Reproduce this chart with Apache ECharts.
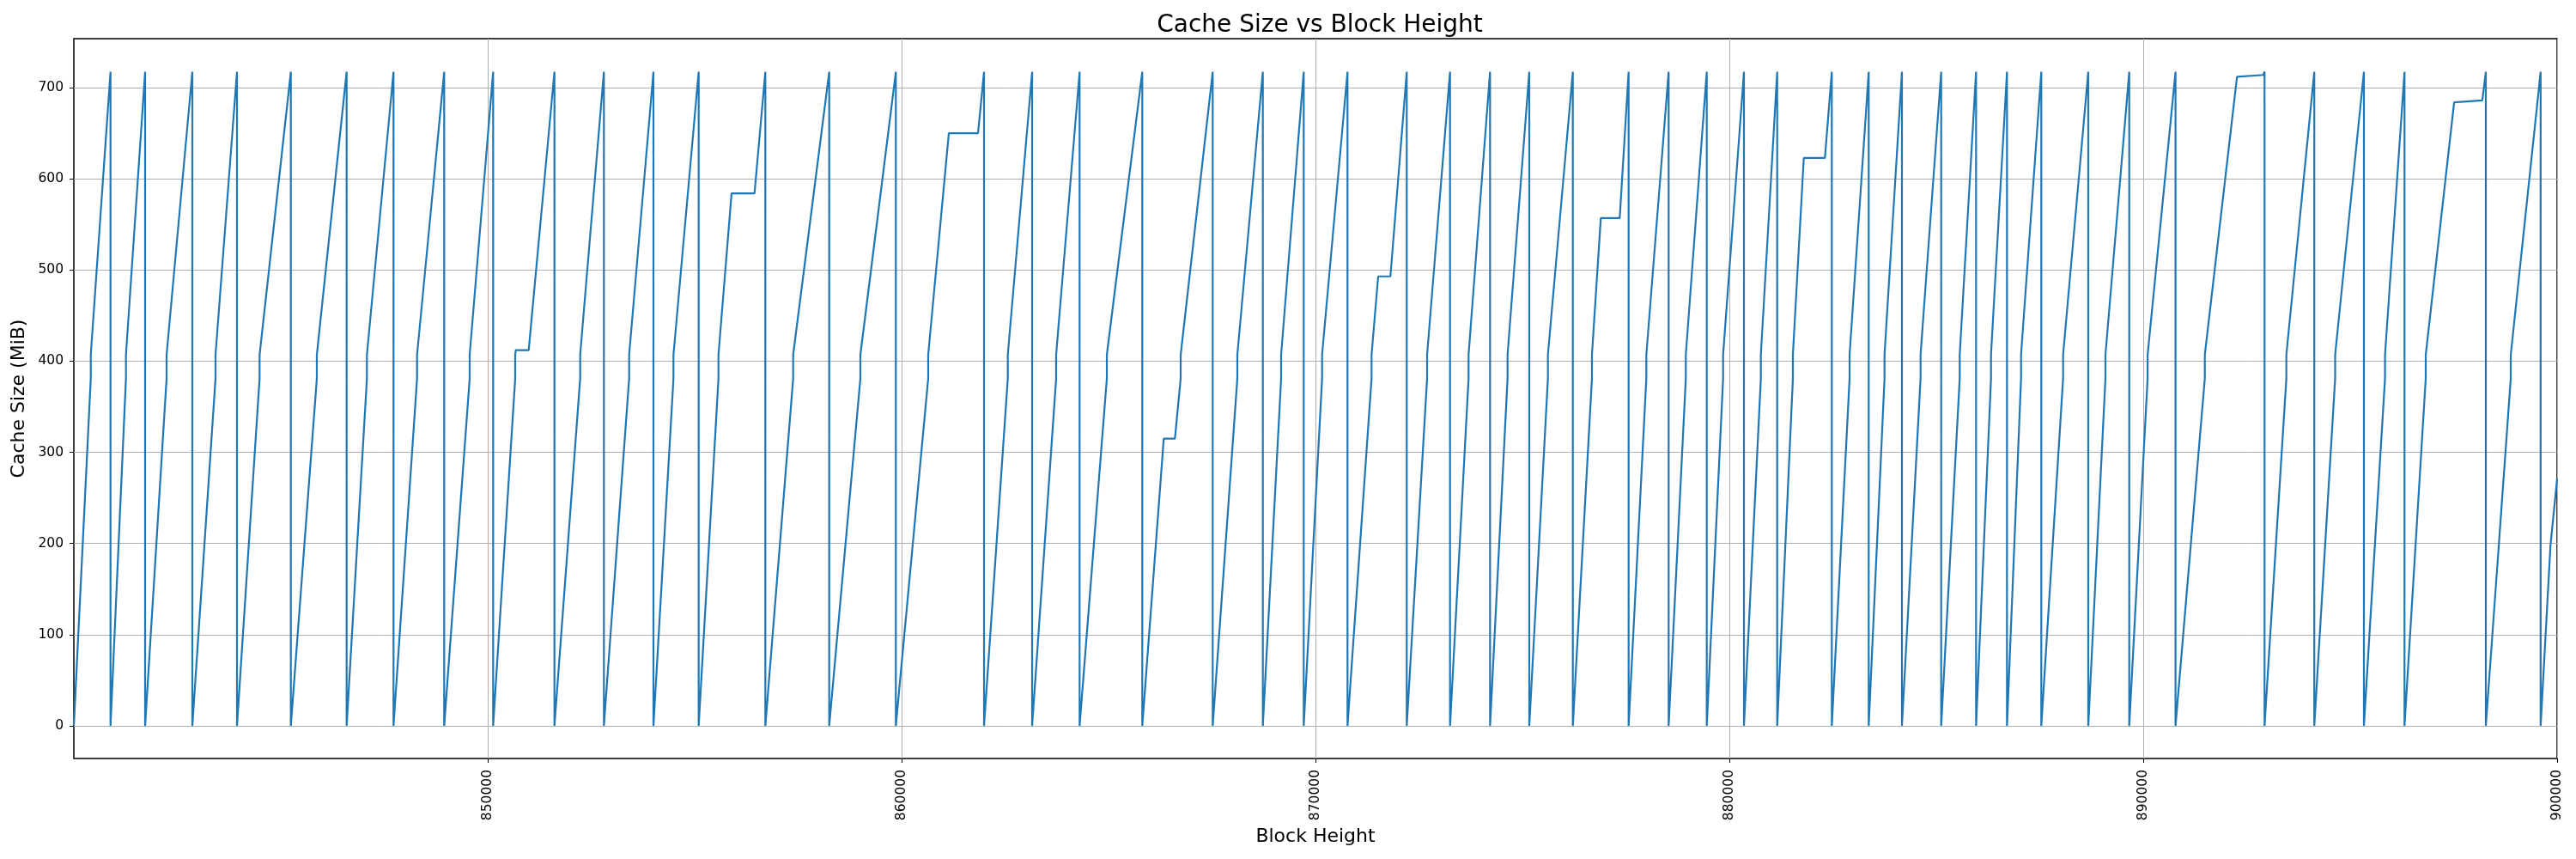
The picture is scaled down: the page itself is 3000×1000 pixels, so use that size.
<!DOCTYPE html>
<html>
<head>
<meta charset="utf-8">
<script src="https://cdn.jsdelivr.net/npm/echarts@6/dist/echarts.min.js"></script>
<style>
html,body{margin:0;padding:0;background:#fff;}
#chart{width:3000px;height:1000px;}
</style>
</head>
<body>
<div id="chart"></div>
<script>
// ---- Data ----
const xMin = 840000, xMax = 900000;
const xTicks = [850000, 860000, 870000, 880000, 890000, 900000];
const yTicks = [0, 100, 200, 300, 400, 500, 600, 700];
const yMin = -35.9, yMax = 753.8;

// block heights where the cache peaks and resets to 0
const resetBlocks = [840886, 841722, 842863, 843942, 845243, 846591, 847724, 848948, 850131, 851612,
  852807, 854004, 855097, 856708, 858251, 859861, 861992, 863154, 864301, 865815,
  867517, 868728, 869716, 870774, 872205, 873251, 874218, 875166, 876218, 877566,
  878533, 879454, 880353, 881156, 882475, 883367, 884170, 885118, 885961, 886708,
  887537, 888672, 889662, 890780, 892931, 894133, 895332, 896313, 898278, 899602];
// block in each ramp where the small vertical jump (~381 -> ~407 MiB) happens
const stepBlocks = [840409, 841259, 842241, 843423, 844488, 845871, 847081, 848293, 849564, 850664,
  852234, 853417, 854488, 855575, 857380, 859004, 860643, 862566, 863734, 864959,
  866743, 868112, 869170, 870160, 871355, 872697, 873699, 874641, 875616, 876680,
  877994, 878948, 879849, 880761, 881535, 882905, 883749, 884620, 885566, 886322,
  887048, 888064, 889087, 890106, 891488, 893458, 894637, 895842, 896826, 898880];
const stepLow = 381, stepHigh = 407;
const peakValue = 717.5;
// flat stretches
const plateauStart      = [850678, 855892, 861141, 866334, 871515, 876894, 881799, 892266, 897512];
const plateauEnd        = [850990, 856446, 861846, 866604, 871811, 877351, 882309, 892900, 898193];
const plateauStartValue = [412, 584, 650, 315, 493, 557, 623, 712, 684];
const plateauEndValue   = [412, 584, 650, 315, 493, 557, 623, 714, 686];
// last partial ramp
const tailBlocks = [899840, 900000];
const tailValues = [198, 271];

// ---- build series ----
const data = [[xMin, 0]];
let prev = xMin;
resetBlocks.forEach((r, i) => {
  const pts = [[stepBlocks[i], stepLow], [stepBlocks[i], stepHigh]];
  plateauStart.forEach((s, j) => {
    if (s > prev && s < r) {
      pts.push([s, plateauStartValue[j]], [plateauEnd[j], plateauEndValue[j]]);
    }
  });
  pts.sort((a, b) => (a[0] - b[0]) || (a[1] - b[1]));
  data.push(...pts, [r, peakValue], [r, 0]);
  prev = r;
});
tailBlocks.forEach((b, i) => data.push([b, tailValues[i]]));

const FONT = 'DejaVu Sans';
const chart = echarts.init(document.getElementById('chart'), null, {renderer: 'canvas'});
chart.setOption({
  animation: false,
  backgroundColor: '#ffffff',
  title: {
    text: 'Cache Size vs Block Height',
    left: 1532,
    textAlign: 'center',
    top: 11,
    textStyle: {fontFamily: FONT, fontSize: 28, fontWeight: 'normal', color: '#000'}
  },
  grid: {
    left: 86, right: 22, top: 45, bottom: 117,
    show: true, borderColor: '#000', borderWidth: 1.5, backgroundColor: 'transparent',
    containLabel: false
  },
  xAxis: {
    type: 'value',
    min: xMin, max: xMax,
    name: 'Block Height',
    nameLocation: 'middle',
    nameGap: 72,
    nameTextStyle: {fontFamily: FONT, fontSize: 22, color: '#000'},
    axisLine: {show: false, onZero: false},
    axisTick: {show: true, customValues: xTicks, length: 5, lineStyle: {color: '#000', width: 1}},
    axisLabel: {customValues: xTicks, rotate: 90, margin: 13, fontFamily: FONT, fontSize: 15.5, color: '#000',
      formatter: v => String(v)},
    splitLine: {show: true, lineStyle: {color: '#b0b0b0', width: 1}}
  },
  yAxis: {
    type: 'value',
    min: yMin, max: yMax,
    name: 'Cache Size (MiB)',
    nameLocation: 'middle',
    nameGap: 49,
    nameTextStyle: {fontFamily: FONT, fontSize: 22, color: '#000'},
    axisLine: {show: false, onZero: false},
    axisTick: {show: true, customValues: yTicks, length: 5, lineStyle: {color: '#000', width: 1}},
    axisLabel: {customValues: yTicks, margin: 12, fontFamily: FONT, fontSize: 15.5, color: '#000',
      formatter: v => String(v)},
    splitLine: {show: true, lineStyle: {color: '#b0b0b0', width: 1}}
  },
  series: [{
    type: 'line',
    data: data,
    showSymbol: false,
    symbol: 'none',
    clip: true,
    lineStyle: {color: '#1f77b4', width: 2.2},
    itemStyle: {color: '#1f77b4'}
  }]
});
</script>
</body>
</html>
